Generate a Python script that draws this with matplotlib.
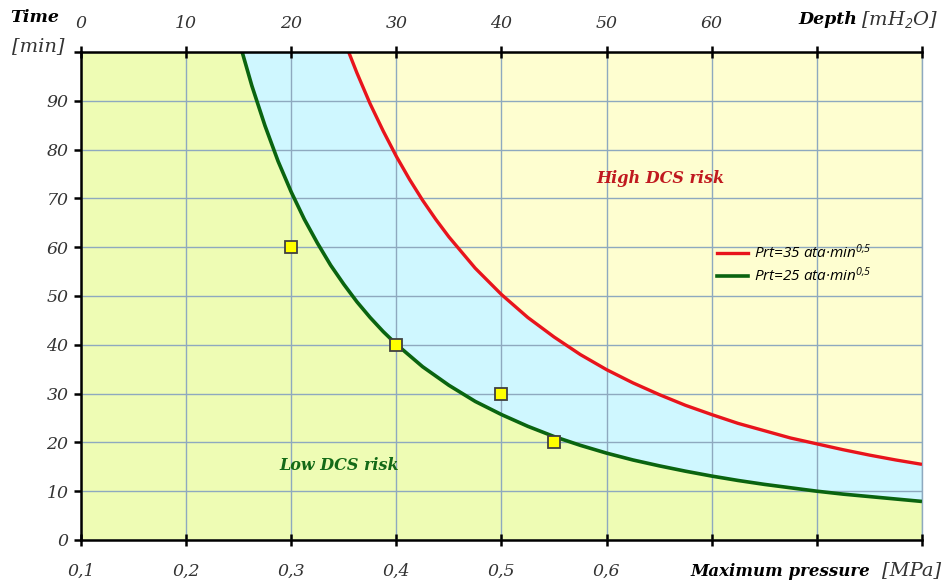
import matplotlib
matplotlib.use("Agg")
import matplotlib.pyplot as plt
from matplotlib.lines import Line2D

plt.rcParams["mathtext.fontset"] = "custom"
plt.rcParams["mathtext.rm"] = "Open Sans:italic"
plt.rcParams["mathtext.it"] = "Open Sans:italic"

# ---- data ----
# green curve (Prt = 25 ata*min^0.5): pressure [MPa] -> time [min]
p_green = [0.2533, 0.2625, 0.275, 0.2875, 0.30, 0.3125, 0.325, 0.3375, 0.35, 0.3625,
           0.375, 0.3875, 0.40, 0.425, 0.45, 0.475, 0.50, 0.525, 0.55, 0.575, 0.60,
           0.625, 0.65, 0.675, 0.70, 0.725, 0.75, 0.775, 0.80, 0.825, 0.85, 0.875, 0.90]
t_green = [100.0, 93.1, 84.9, 77.6, 71.3, 65.7, 60.8, 56.3, 52.4, 48.8,
           45.6, 42.7, 40.1, 35.5, 31.7, 28.4, 25.7, 23.3, 21.2, 19.4, 17.8,
           16.4, 15.2, 14.1, 13.1, 12.2, 11.4, 10.7, 10.0, 9.4, 8.9, 8.4, 7.9]
# red curve (Prt = 35 ata*min^0.5)
p_red = [0.3546, 0.3625, 0.375, 0.3875, 0.40, 0.4125, 0.425, 0.4375, 0.45, 0.475,
         0.50, 0.525, 0.55, 0.575, 0.60, 0.625, 0.65, 0.675, 0.70, 0.725, 0.75,
         0.775, 0.80, 0.825, 0.85, 0.875, 0.90]
t_red = [100.0, 95.7, 89.4, 83.8, 78.6, 73.9, 69.6, 65.7, 62.1, 55.7,
         50.3, 45.6, 41.6, 38.0, 34.9, 32.2, 29.8, 27.6, 25.7, 23.9, 22.4,
         20.9, 19.7, 18.5, 17.4, 16.4, 15.5]
# measured points
p_pts = [0.30, 0.40, 0.50, 0.55]
t_pts = [60, 40, 30, 20]

x_ticks = [0.1, 0.2, 0.3, 0.4, 0.5, 0.6, 0.7, 0.8, 0.9]
x_labels = ["0,1", "0,2", "0,3", "0,4", "0,5", "0,6", "", "", ""]
depth_labels = ["0", "10", "20", "30", "40", "50", "60", "", ""]
y_ticks = [0, 10, 20, 30, 40, 50, 60, 70, 80, 90, 100]
y_labels = ["0", "10", "20", "30", "40", "50", "60", "70", "80", "90", ""]

legend_labels = ["Prt=35 ata·min$^{0{,}5}$", "Prt=25 ata·min$^{0{,}5}$"]

# ---- styling ----
c_low = "#eefcb4"
c_mid = "#cff7ff"
c_high = "#fefed0"
c_red = "#e8141c"
c_green = "#0a6410"
grid_c = "#8ea9bf"
serif = "DejaVu Serif"

W, H = 945, 585
fig = plt.figure(figsize=(W / 100, H / 100), dpi=100)
L, R, T, B = 81, 922, 52, 540
ax = fig.add_axes([L / W, 1 - B / H, (R - L) / W, (B - T) / H])
ax.set_xlim(0.1, 0.9)
ax.set_ylim(0, 100)
ax.set_facecolor(c_high)

# background regions as single polygons
x0, x1 = ax.get_xlim()
y0, y1 = ax.get_ylim()
ax.fill([x0] + p_red + [x1, x0], [y1] + t_red + [y0, y0], color=c_mid, lw=0, zorder=0.5)
ax.fill([x0] + p_green + [x1, x0], [y1] + t_green + [y0, y0], color=c_low, lw=0, zorder=0.8)

ax.set_xticks(x_ticks)
ax.set_yticks(y_ticks)
ax.grid(True, color=grid_c, lw=1.0, zorder=1)
ax.set_axisbelow(False)

ax.plot(p_red, t_red, color=c_red, lw=2.4, zorder=3, solid_capstyle="butt")
ax.plot(p_green, t_green, color=c_green, lw=2.6, zorder=3, solid_capstyle="butt")
ax.plot(p_pts, t_pts, ls="none", marker="s", ms=9, mfc="#ffff00", mec="#404040",
        mew=1.3, zorder=4)

ax.spines["right"].set_color(grid_c)
ax.spines["right"].set_linewidth(1.0)
for s in ["left", "top", "bottom"]:
    ax.spines[s].set_color("black")
    ax.spines[s].set_linewidth(1.8)
    ax.spines[s].set_zorder(5)

tick_font = dict(family=serif, style="italic", size=12.5, color="#333333")
ax.set_xticklabels(x_labels, **tick_font)
ax.set_yticklabels(y_labels, **tick_font)
ax.tick_params(axis="x", direction="inout", length=9, width=1.8, pad=12,
               bottom=True, top=True, labelbottom=True)
ax.tick_params(axis="y", direction="out", length=5, width=1.8, pad=4)

ax2 = ax.twiny()
ax2.set_xlim(ax.get_xlim())
ax2.set_xticks(x_ticks)
ax2.set_xticklabels(depth_labels, **tick_font)
ax2.tick_params(axis="x", direction="inout", length=9, width=1.8, pad=10)
for s in ax2.spines.values():
    s.set_visible(False)

# region texts
ax.text(0.651, 74, "High DCS risk", color="#c0191f", family=serif, style="italic",
        weight="bold", size=11.5, ha="center", va="center", zorder=6)
ax.text(0.346, 15.2, "Low DCS risk", color="#136a17", family=serif, style="italic",
        weight="bold", size=11.5, ha="center", va="center", zorder=6)

# axis titles
def ftxt(x, y, s, **kw):
    fig.text(x / W, 1 - y / H, s, **kw)

ftxt(35, 18, "Time", family=serif, style="italic", weight="bold", size=12.5,
     ha="center", va="center", color="black")
ftxt(38, 46, "[min]", family=serif, style="italic", size=14,
     ha="center", va="center", color="#333333")
ftxt(828, 20, "Depth", family=serif, style="italic", weight="bold", size=12.5,
     ha="center", va="center", color="black")
ftxt(899, 20, "[mH$_2$O]", family=serif, style="italic", size=14,
     ha="center", va="center", color="#333333")
ftxt(780, 571, "Maximum pressure", family=serif, style="italic", weight="bold",
     size=12, ha="center", va="center", color="black")
ftxt(912, 570, "[MPa]", family=serif, style="italic", size=14,
     ha="center", va="center", color="#333333")

handles = [Line2D([], [], color=c_red, lw=2.4), Line2D([], [], color=c_green, lw=2.6)]
leg = ax.legend(handles, legend_labels, loc="center left",
                bbox_to_anchor=(0.74, 0.565), frameon=False, handlelength=2.0,
                handletextpad=0.4, labelspacing=0.3,
                prop=dict(family="Open Sans", style="italic", size=11))
leg.set_zorder(6)

fig.savefig("out.png", dpi=100, facecolor="white")
